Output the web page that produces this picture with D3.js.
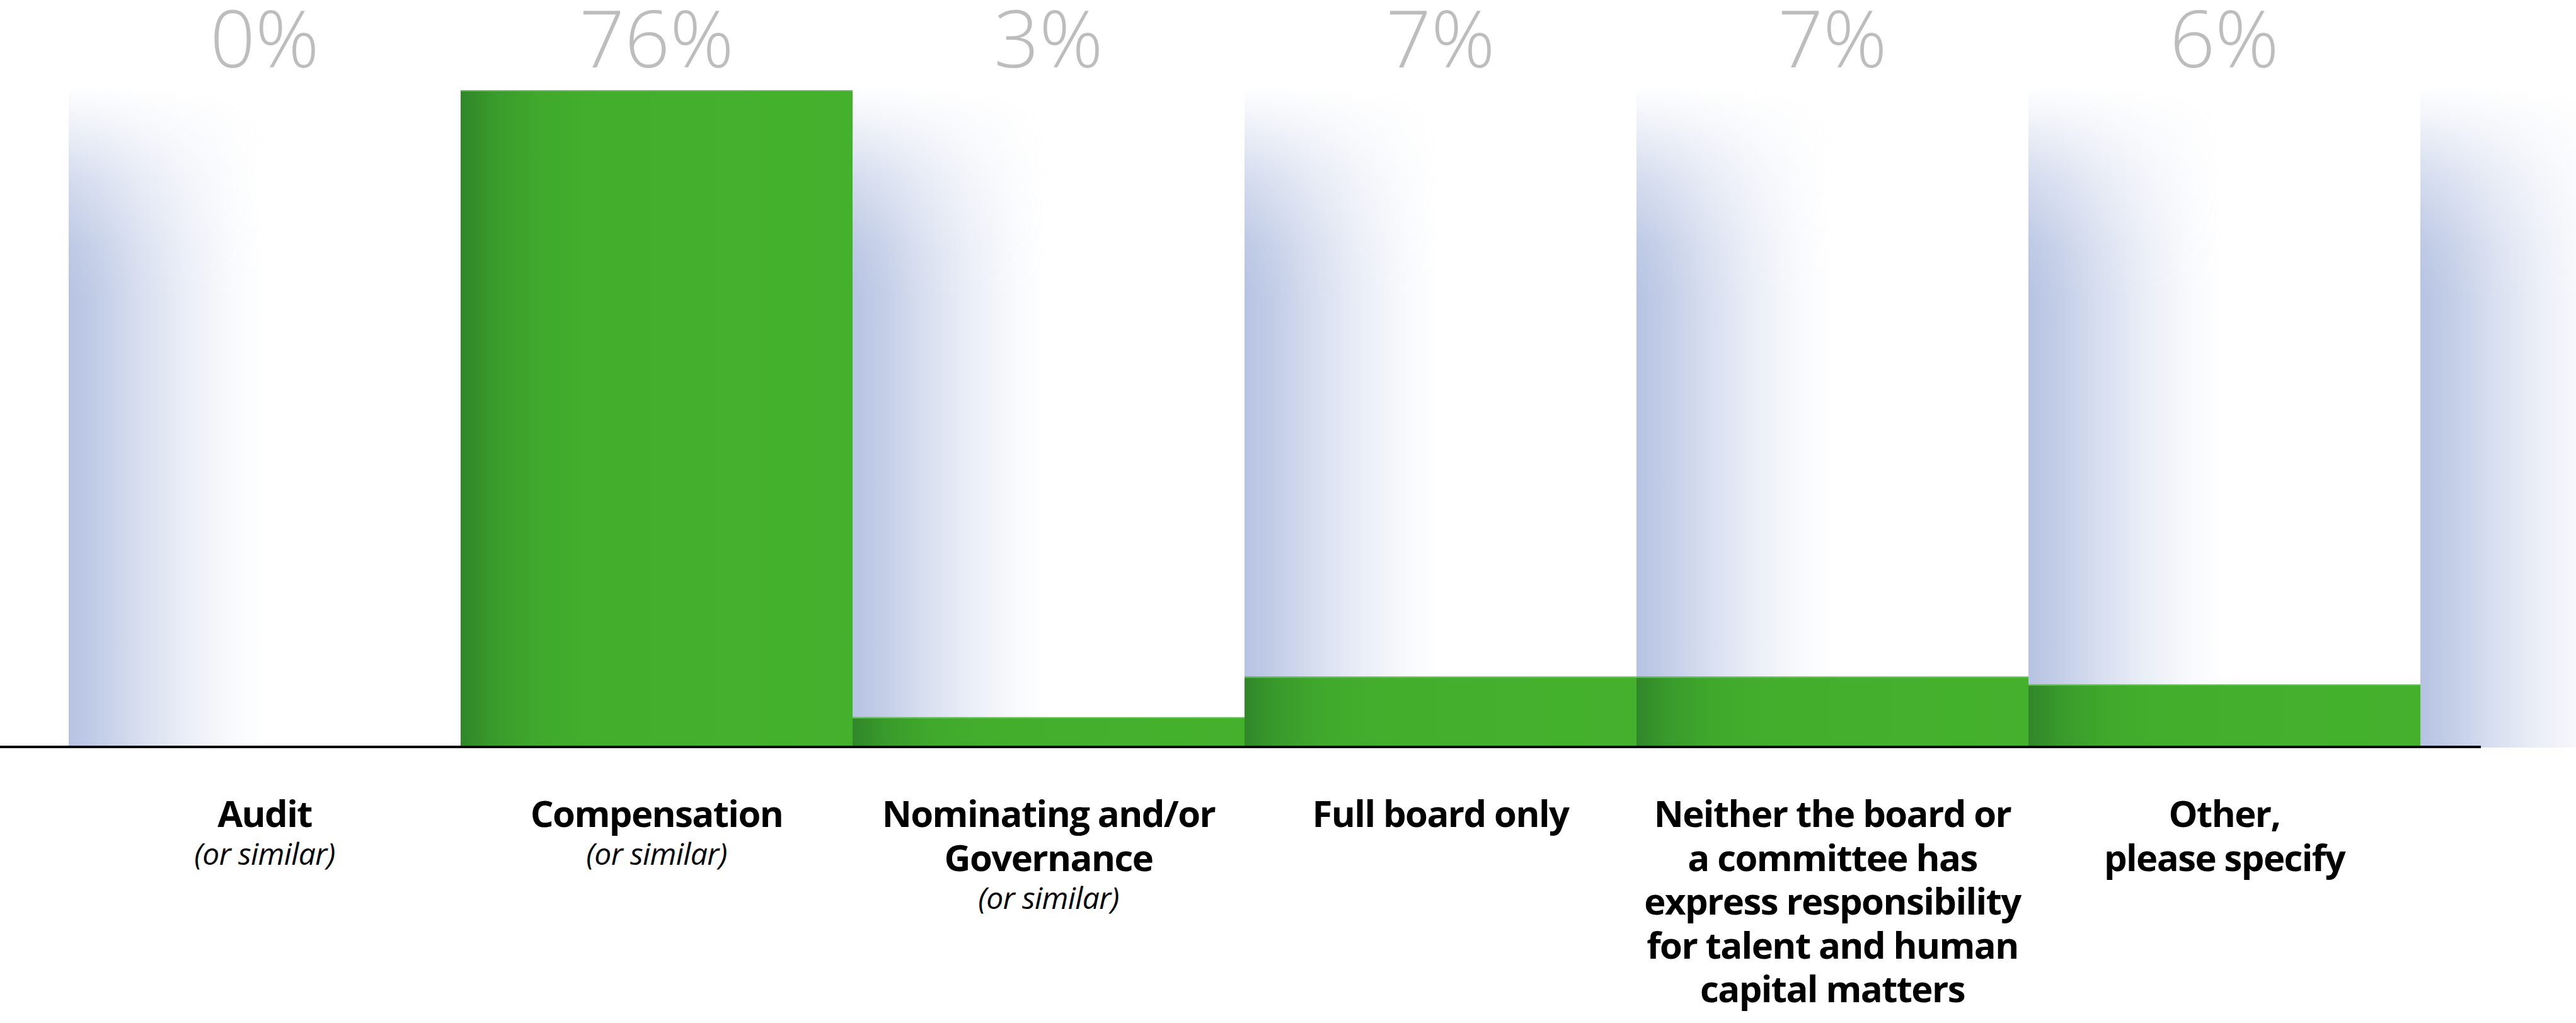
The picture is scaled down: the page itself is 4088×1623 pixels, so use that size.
<!DOCTYPE html>
<html>
<head>
<meta charset="utf-8">
<script src="https://cdn.jsdelivr.net/npm/d3@7"></script>
<style>
  html, body { margin: 0; padding: 0; background: #ffffff; }
  svg { display: block; }
</style>
</head>
<body>
<div id="chart"></div>
<script>
// ---------- data ----------
const categories = [
  "Audit",
  "Compensation",
  "Nominating and/or Governance",
  "Full board only",
  "Neither the board or a committee has express responsibility for talent and human capital matters",
  "Other, please specify"
];
const labelLines = [
  ["Audit"],
  ["Compensation"],
  ["Nominating and/or", "Governance"],
  ["Full board only"],
  ["Neither the board or", "a committee has", "express responsibility", "for talent and human", "capital matters"],
  ["Other,", "please specify"]
];
const qualifiers = ["(or similar)", "(or similar)", "(or similar)", "", "", ""];
// bar heights (percent of respondents)
const shares = [0, 76, 3.3, 8.0, 8.0, 7.1];
// value labels as printed above the bars
const shareLabels = ["0%", "76%", "3%", "7%", "7%", "6%"];

// ---------- layout ----------
const W = 4088, H = 1623;
const plotLeft = 109, plotRight = 3841;
const baseY = 1183, topY = 143, trackTop = 138;

const svg = d3.select("#chart").append("svg")
  .attr("width", W).attr("height", H)
  .attr("viewBox", `0 0 ${W} ${H}`);

const defs = svg.append("defs");

// blue background track gradient (horizontal)
const tg = defs.append("linearGradient").attr("id", "trackGrad")
  .attr("x1", "0").attr("x2", "1").attr("y1", "0").attr("y2", "0");
[[0, 1], [0.08, 0.82], [0.18, 0.55], [0.3, 0.28], [0.42, 0.08], [0.5, 0]].forEach(([o, a]) =>
  tg.append("stop").attr("offset", o).attr("stop-color", "#b6c3e2").attr("stop-opacity", a));

// vertical fade at top of track (mask)
const vg = defs.append("linearGradient").attr("id", "fadeGrad")
  .attr("x1", "0").attr("x2", "0").attr("y1", "0").attr("y2", "1");
[[0, 0], [0.06, 0.25], [0.14, 0.6], [0.24, 0.9], [0.32, 1], [1, 1]].forEach(([o, a]) =>
  vg.append("stop").attr("offset", o).attr("stop-color", "#fff").attr("stop-opacity", a));
const mask = defs.append("mask").attr("id", "fadeMask")
  .attr("maskContentUnits", "objectBoundingBox");
mask.append("rect").attr("x", 0).attr("y", 0).attr("width", 1).attr("height", 1)
  .attr("fill", "url(#fadeGrad)");

// green bar gradient
const gg = defs.append("linearGradient").attr("id", "barGrad")
  .attr("x1", "0").attr("x2", "1").attr("y1", "0").attr("y2", "0");
[[0, "#31862a"], [0.08, "#389a2b"], [0.2, "#40a92c"], [0.35, "#43ae2c"], [1, "#44b12d"]].forEach(([o, c]) =>
  gg.append("stop").attr("offset", o).attr("stop-color", c));

// ---------- scales ----------
const x = d3.scaleBand().domain(categories).range([plotLeft, plotRight]).padding(0);
const y = d3.scaleLinear().domain([0, 76]).range([baseY, topY]);
const step = x.step();

// ---------- background tracks (one per category plus one trailing) ----------
const trackX = categories.map(c => x(c)).concat([x(categories[categories.length - 1]) + step]);
svg.append("g").selectAll("rect").data(trackX).join("rect")
  .attr("x", d => d)
  .attr("y", trackTop)
  .attr("width", step)
  .attr("height", baseY - trackTop + 3)
  .attr("fill", "url(#trackGrad)")
  .attr("mask", "url(#fadeMask)");

// ---------- bars ----------
const data = categories.map((c, i) => ({ c, v: shares[i], label: shareLabels[i], lines: labelLines[i], q: qualifiers[i] }));
const bars = svg.append("g");
bars.selectAll("rect.bar").data(data.filter(d => d.v > 0)).join("rect")
  .attr("class", "bar")
  .attr("x", d => x(d.c))
  .attr("y", d => y(d.v))
  .attr("width", x.bandwidth())
  .attr("height", d => y(0) - y(d.v))
  .attr("fill", "url(#barGrad)");
bars.selectAll("rect.hl").data(data.filter(d => d.v > 0)).join("rect")
  .attr("class", "hl")
  .attr("x", d => x(d.c))
  .attr("y", d => y(d.v))
  .attr("width", x.bandwidth())
  .attr("height", 2)
  .attr("fill", "#66bd55");

// ---------- baseline ----------
svg.append("line")
  .attr("x1", 0).attr("x2", plotRight + 96)
  .attr("y1", baseY + 2).attr("y2", baseY + 2)
  .attr("stroke", "#0a0a0a").attr("stroke-width", 4);

// ---------- value labels ----------
svg.append("g").selectAll("text").data(data).join("text")
  .attr("x", d => x(d.c) + x.bandwidth() / 2)
  .attr("y", 107)
  .attr("text-anchor", "middle")
  .attr("font-family", "'Open Sans', sans-serif")
  .attr("font-weight", 300)
  .attr("font-size", 126)
  .attr("fill", "#bdbdbd")
  .text(d => d.label);

// ---------- category labels ----------
const lineH = 69.5, firstBase = 1312, qGap = 60;
const cat = svg.append("g").selectAll("g").data(data).join("g")
  .attr("transform", d => `translate(${x(d.c) + x.bandwidth() / 2},0)`);
cat.each(function (d) {
  const g = d3.select(this);
  g.selectAll("text.l").data(d.lines).join("text")
    .attr("class", "l")
    .attr("x", 0)
    .attr("y", (t, i) => firstBase + i * lineH)
    .attr("text-anchor", "middle")
    .attr("font-family", "'Open Sans', sans-serif")
    .attr("font-weight", 700)
    .attr("font-size", 58)
    .attr("letter-spacing", "-1.6px")
    .attr("fill", "#000")
    .text(t => t);
  if (d.q) {
    g.append("text")
      .attr("x", 0)
      .attr("y", firstBase + (d.lines.length - 1) * lineH + qGap)
      .attr("text-anchor", "middle")
      .attr("font-family", "'Open Sans', sans-serif")
      .attr("font-style", "italic")
      .attr("font-weight", 400)
      .attr("font-size", 48)
      .attr("letter-spacing", "-0.6px")
      .attr("fill", "#000")
      .text(d.q);
  }
});
</script>
</body>
</html>
